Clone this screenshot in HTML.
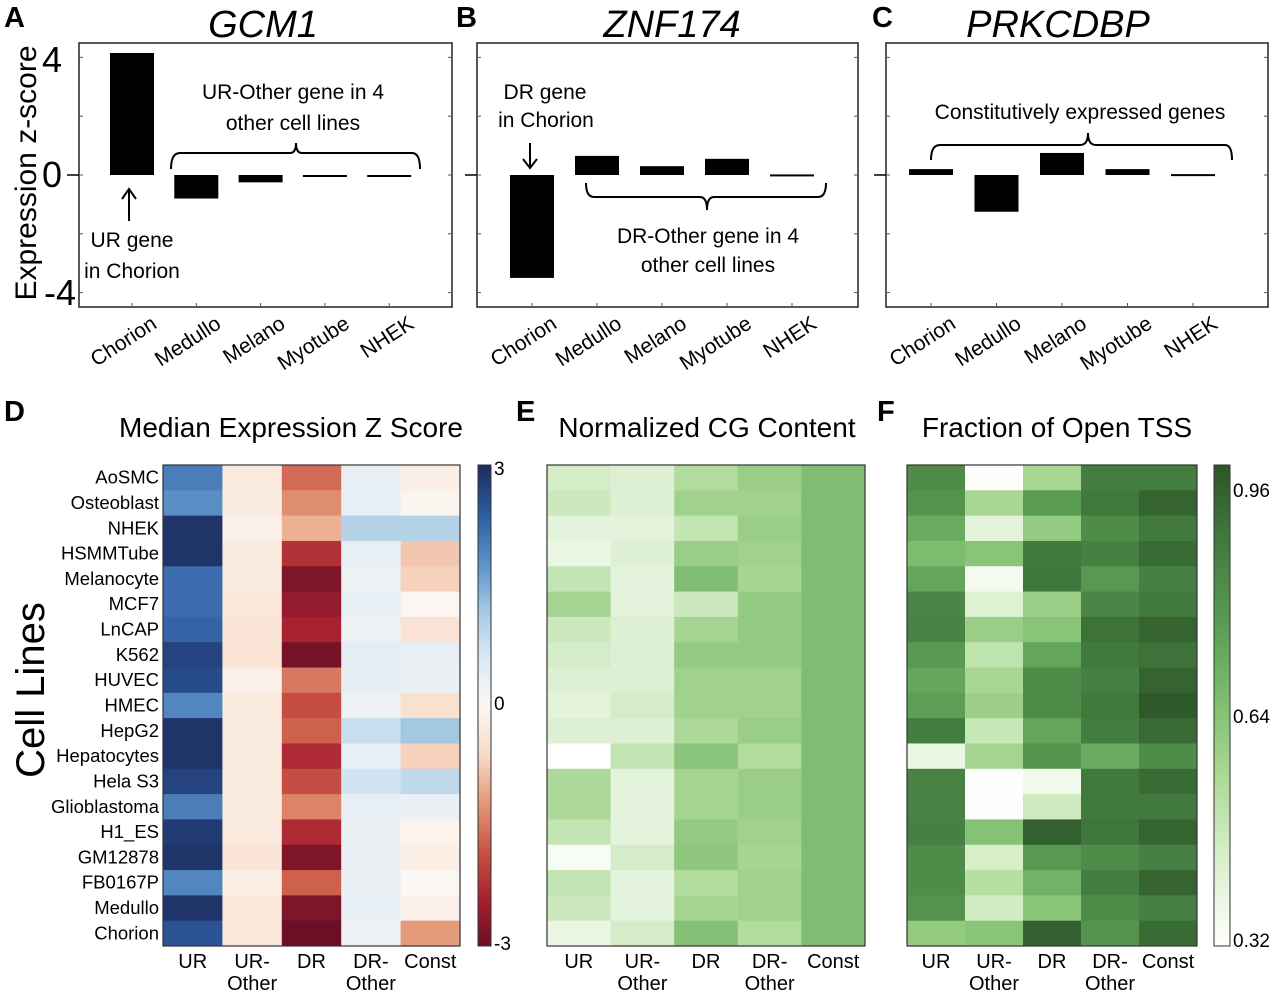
<!DOCTYPE html>
<html><head><meta charset="utf-8"><style>
body{margin:0;background:#fff;}
svg{display:block;font-family:"Liberation Sans","DejaVu Sans",sans-serif;}
</style></head><body>
<svg id="fig" width="1280" height="993" viewBox="0 0 1280 993">
<text x="4" y="27" font-size="29" font-weight="bold">A</text>
<text x="456" y="27" font-size="29" font-weight="bold">B</text>
<text x="872" y="27" font-size="29" font-weight="bold">C</text>
<text x="4" y="421" font-size="29" font-weight="bold">D</text>
<text x="516" y="421" font-size="29" font-weight="bold">E</text>
<text x="877" y="421" font-size="29" font-weight="bold">F</text>
<text x="263" y="37" font-size="38" font-style="italic" text-anchor="middle">GCM1</text>
<text x="672" y="37" font-size="38" font-style="italic" text-anchor="middle">ZNF174</text>
<text x="1058" y="37" font-size="38" font-style="italic" text-anchor="middle">PRKCDBP</text>
<text transform="translate(36,173) rotate(-90)" font-size="30" text-anchor="middle">Expression z-score</text>
<text x="62" y="72" font-size="36" text-anchor="end">4</text>
<text x="62" y="187" font-size="36" text-anchor="end">0</text>
<text x="76" y="305" font-size="36" text-anchor="end">-4</text>
<g font-size="21" text-anchor="middle">
<text x="293" y="99">UR-Other gene in 4</text>
<text x="293" y="130">other cell lines</text>
<text x="132" y="247">UR gene</text>
<text x="132" y="278">in Chorion</text>
<text x="545" y="99">DR gene</text>
<text x="546" y="127">in Chorion</text>
<text x="708" y="243">DR-Other gene in 4</text>
<text x="708" y="272">other cell lines</text>
<text x="1080" y="119">Constitutively  expressed genes</text>
</g>
<g fill="none" stroke="#000" stroke-width="2">
<path d="M171,169 Q171,153 180,153 L290,153 Q296,153 296,143 Q296,153 302,153 L412,153 Q420,153 420,169"/>
<path d="M129,221 L129,190 M122,199 L129,189 L136,199"/>
<path d="M530,143 L530,168 M523,159 L530,168 L537,159"/>
<path d="M586,183 Q586,197 594,197 L700,197 Q707,197 707,210 Q707,197 714,197 L818,197 Q826,197 826,183"/>
<path d="M931,160 Q931,145 940,145 L1080,145 Q1088,145 1088,133 Q1088,145 1096,145 L1225,145 Q1232,145 1232,160"/>
</g>
<g id="bars"></g>
<text x="291" y="437" font-size="28" text-anchor="middle">Median Expression Z Score</text>
<text x="707" y="437" font-size="28" text-anchor="middle">Normalized CG Content</text>
<text x="1057" y="437" font-size="28" text-anchor="middle">Fraction of Open TSS</text>
<text transform="translate(44,690) rotate(-90)" font-size="40" text-anchor="middle">Cell Lines</text>
<g id="heat"></g>
</svg>
<script>
const NS='http://www.w3.org/2000/svg';
const svg=document.getElementById('fig');
function mk(tag,attrs,parent){const e=document.createElementNS(NS,tag);for(const k in attrs)e.setAttribute(k,attrs[k]);(parent||svg).appendChild(e);return e;}

const barCategories=['Chorion','Medullo','Melano','Myotube','NHEK'];
const gcm1Values=[4.15,-0.8,-0.25,-0.06,-0.03];
const znf174Values=[-3.5,0.65,0.3,0.55,0.02];
const prkcdbpValues=[0.2,-1.25,0.75,0.2,0.03];

const cellLines=['AoSMC','Osteoblast','NHEK','HSMMTube','Melanocyte','MCF7','LnCAP','K562','HUVEC','HMEC','HepG2','Hepatocytes','Hela S3','Glioblastoma','H1_ES','GM12878','FB0167P','Medullo','Chorion'];
const geneClasses=['UR','UR-\nOther','DR','DR-\nOther','Const'];
const zUR=[2.0,1.8,2.9,2.9,2.2,2.2,2.3,2.7,2.6,1.9,2.9,2.9,2.7,2.0,2.8,2.9,1.9,2.9,2.5];
const zUROther=[-0.3,-0.25,-0.15,-0.3,-0.3,-0.35,-0.4,-0.45,-0.15,-0.3,-0.3,-0.3,-0.3,-0.3,-0.3,-0.4,-0.2,-0.35,-0.35];
const zDR=[-1.6,-1.3,-1.0,-2.2,-2.8,-2.6,-2.4,-2.9,-1.5,-1.9,-1.7,-2.3,-1.9,-1.4,-2.3,-2.8,-1.7,-2.8,-3.0];
const zDROther=[0.35,0.35,1.0,0.35,0.25,0.35,0.25,0.45,0.4,0.25,0.8,0.35,0.7,0.35,0.3,0.3,0.3,0.35,0.25];
const zConst=[-0.2,-0.05,1.0,-0.8,-0.7,-0.02,-0.45,0.35,0.3,-0.5,1.2,-0.7,0.9,0.3,-0.1,-0.2,0.0,-0.15,-1.2];
const cgUR=[0.3,0.35,0.2,0.15,0.4,0.6,0.35,0.3,0.25,0.2,0.25,0.0,0.55,0.55,0.4,0.05,0.4,0.35,0.15];
const cgUROther=[0.25,0.25,0.2,0.25,0.2,0.2,0.25,0.25,0.25,0.3,0.25,0.4,0.2,0.2,0.2,0.3,0.2,0.2,0.3];
const cgDR=[0.5,0.65,0.4,0.7,0.95,0.35,0.6,0.75,0.65,0.65,0.55,0.85,0.6,0.6,0.75,0.8,0.5,0.6,0.9];
const cgDROther=[0.7,0.65,0.7,0.65,0.6,0.75,0.75,0.75,0.65,0.65,0.7,0.5,0.7,0.7,0.65,0.6,0.65,0.65,0.5];
const cgConst=[0.95,0.95,0.95,0.95,0.95,0.95,0.95,0.95,0.95,0.95,0.95,0.95,0.95,0.95,0.95,0.95,0.95,0.95,0.95];
const tssUR=[0.80,0.78,0.70,0.65,0.72,0.82,0.83,0.76,0.72,0.74,0.85,0.38,0.83,0.83,0.84,0.80,0.80,0.78,0.60];
const tssUROther=[0.32,0.55,0.40,0.62,0.35,0.42,0.58,0.50,0.55,0.58,0.48,0.56,0.32,0.32,0.63,0.44,0.52,0.45,0.62];
const tssDR=[0.55,0.75,0.60,0.86,0.87,0.58,0.62,0.72,0.80,0.80,0.72,0.78,0.36,0.46,0.93,0.76,0.68,0.62,0.93];
const tssDROther=[0.85,0.86,0.80,0.84,0.76,0.82,0.88,0.86,0.84,0.86,0.85,0.70,0.86,0.86,0.87,0.80,0.85,0.80,0.78];
const tssConst=[0.85,0.92,0.86,0.90,0.84,0.86,0.92,0.88,0.92,0.95,0.90,0.80,0.90,0.86,0.92,0.84,0.92,0.84,0.90];
const zTicks=['3','0','-3'];
const tssTicks=['0.96','0.64','0.32'];

const barsG=document.getElementById('bars');
function barChart(name,x0,x1,centers,vals){
  const y0=43,y1=307;
  const yScale=v=>175-v*29.4;
  const frame=mk('rect',{x:x0,y:y0,width:x1-x0,height:y1-y0,fill:'none',stroke:'#222','stroke-width':1.5},barsG);
  
  
  [4,2,0,-2,-4].forEach(t=>{
    const y=yScale(t);
    const tk=mk('line',{x1:x0,x2:x0+4,y1:y,y2:y,stroke:'#555'},barsG);
    
    
    const tk2=mk('line',{x1:x1-4,x2:x1,y1:y,y2:y,stroke:'#555'},barsG);
    
    
  });
  const zl=mk('line',{x1:x0-12,x2:x0,y1:175,y2:175,stroke:'#000','stroke-width':1.5},barsG);
  
  
  const cx=i=>centers[0]+i*centers[1];
  barCategories.forEach((c,i)=>{
    const v=vals[i];
    const top=Math.min(yScale(v),175), h=Math.max(Math.abs(yScale(v)-175),2);
    const r=mk('rect',{x:cx(i)-22,y:top,width:44,height:h,fill:'#000'},barsG);
    
    
    const tk=mk('line',{x1:cx(i),x2:cx(i),y1:y1,y2:y1-4,stroke:'#555'},barsG);
    
    
    const t=mk('text',{transform:`translate(${cx(i)+26},${y1+20}) rotate(-33)`,'font-size':21,'text-anchor':'end'},barsG);
    t.textContent=c;
    
    
  });
}
barChart('gcm1',79,452,[132,64.3],gcm1Values);
barChart('znf174',477,858,[532,65],znf174Values);
barChart('prkcdbp',886,1268,[931,65.5],prkcdbpValues);

function hex(h){return [parseInt(h.slice(1,3),16),parseInt(h.slice(3,5),16),parseInt(h.slice(5,7),16)];}
function interp(stops,t){
  t=Math.max(0,Math.min(1,t));
  const n=stops.length-1, p=t*n, i=Math.min(Math.floor(p),n-1), f=p-i;
  const a=hex(stops[i]),b=hex(stops[i+1]);
  return 'rgb('+a.map((v,k)=>Math.round(v+(b[k]-v)*f)).join(',')+')';
}
const rdbu=['#6b0f26','#a82130','#c95545','#e59a7a','#f9dcc9','#fbf7f3','#dbe9f4','#a2c8e2','#5a8fc6','#2d5aa0','#1c2c5e'];
const cgMap=['#ffffff','#ddf0d3','#b2dc9e','#94cb83','#7bb86f'];
const tssMap=['#fdfefb','#dcf1d0','#b0dc9b','#80bf70','#5b9c55','#437c3f','#2c5528'];

const heatG=document.getElementById('heat');
const y0=465,y1=946,rowH=(y1-y0)/cellLines.length;
function heatmap(name,x0,x1,cols,colorFn,showRows){
  const cw=(x1-x0)/cols.length;
  cols.forEach((col,j)=>{
    col.forEach((v,i)=>{
      const r=mk('rect',{x:x0+j*cw,y:y0+i*rowH,width:cw+0.5,height:rowH+0.5,fill:colorFn(v)},heatG);
      
      
    });
  });
  const fr=mk('rect',{x:x0,y:y0,width:x1-x0,height:y1-y0,fill:'none',stroke:'#333','stroke-width':1.2},heatG);
  
  
  geneClasses.forEach((g,j)=>{
    const cx=x0+(j+0.5)*cw;
    g.split('\n').forEach((ln,k)=>{
      const t=mk('text',{x:cx,y:968+k*22,'font-size':20,'text-anchor':'middle'},heatG);
      t.textContent=ln;
      
      
    });
  });
  if(showRows){
    cellLines.forEach((c,i)=>{
      const t=mk('text',{x:x0-4,y:y0+(i+0.5)*rowH+6,'font-size':18.5,'text-anchor':'end'},heatG);
      t.textContent=c;
      
      
    });
  }
}
heatmap('zscore-heatmap',163,460,[zUR,zUROther,zDR,zDROther,zConst],v=>interp(rdbu,(v+3)/6),true);
heatmap('cg-heatmap',547,865,[cgUR,cgUROther,cgDR,cgDROther,cgConst],v=>interp(cgMap,v),false);
heatmap('tss-heatmap',907,1197,[tssUR,tssUROther,tssDR,tssDROther,tssConst],v=>interp(tssMap,(v-0.32)/0.64),false);

function colorbar(name,x,w,stops,ticks,tickYs){
  const defs=mk('defs',{},heatG);
  const lg=mk('linearGradient',{id:name+'-grad',x1:0,y1:1,x2:0,y2:0},defs);
  stops.forEach((s,i)=>mk('stop',{offset:i/(stops.length-1),'stop-color':s},lg));
  const r=mk('rect',{x:x,y:y0,width:w,height:y1-y0,fill:`url(#${name}-grad)`,stroke:'#333','stroke-width':1},heatG);
  
  
  ticks.forEach((t,i)=>{
    const tx=mk('text',{x:x+w+3,y:tickYs[i],'font-size':19},heatG);
    tx.textContent=t;
    
    
  });
}
colorbar('zscore-colorbar',478,13,rdbu,zTicks,[475,710,950]);
colorbar('tss-colorbar',1214,16,tssMap,tssTicks,[497,723,947]);
</script>
</body></html>
